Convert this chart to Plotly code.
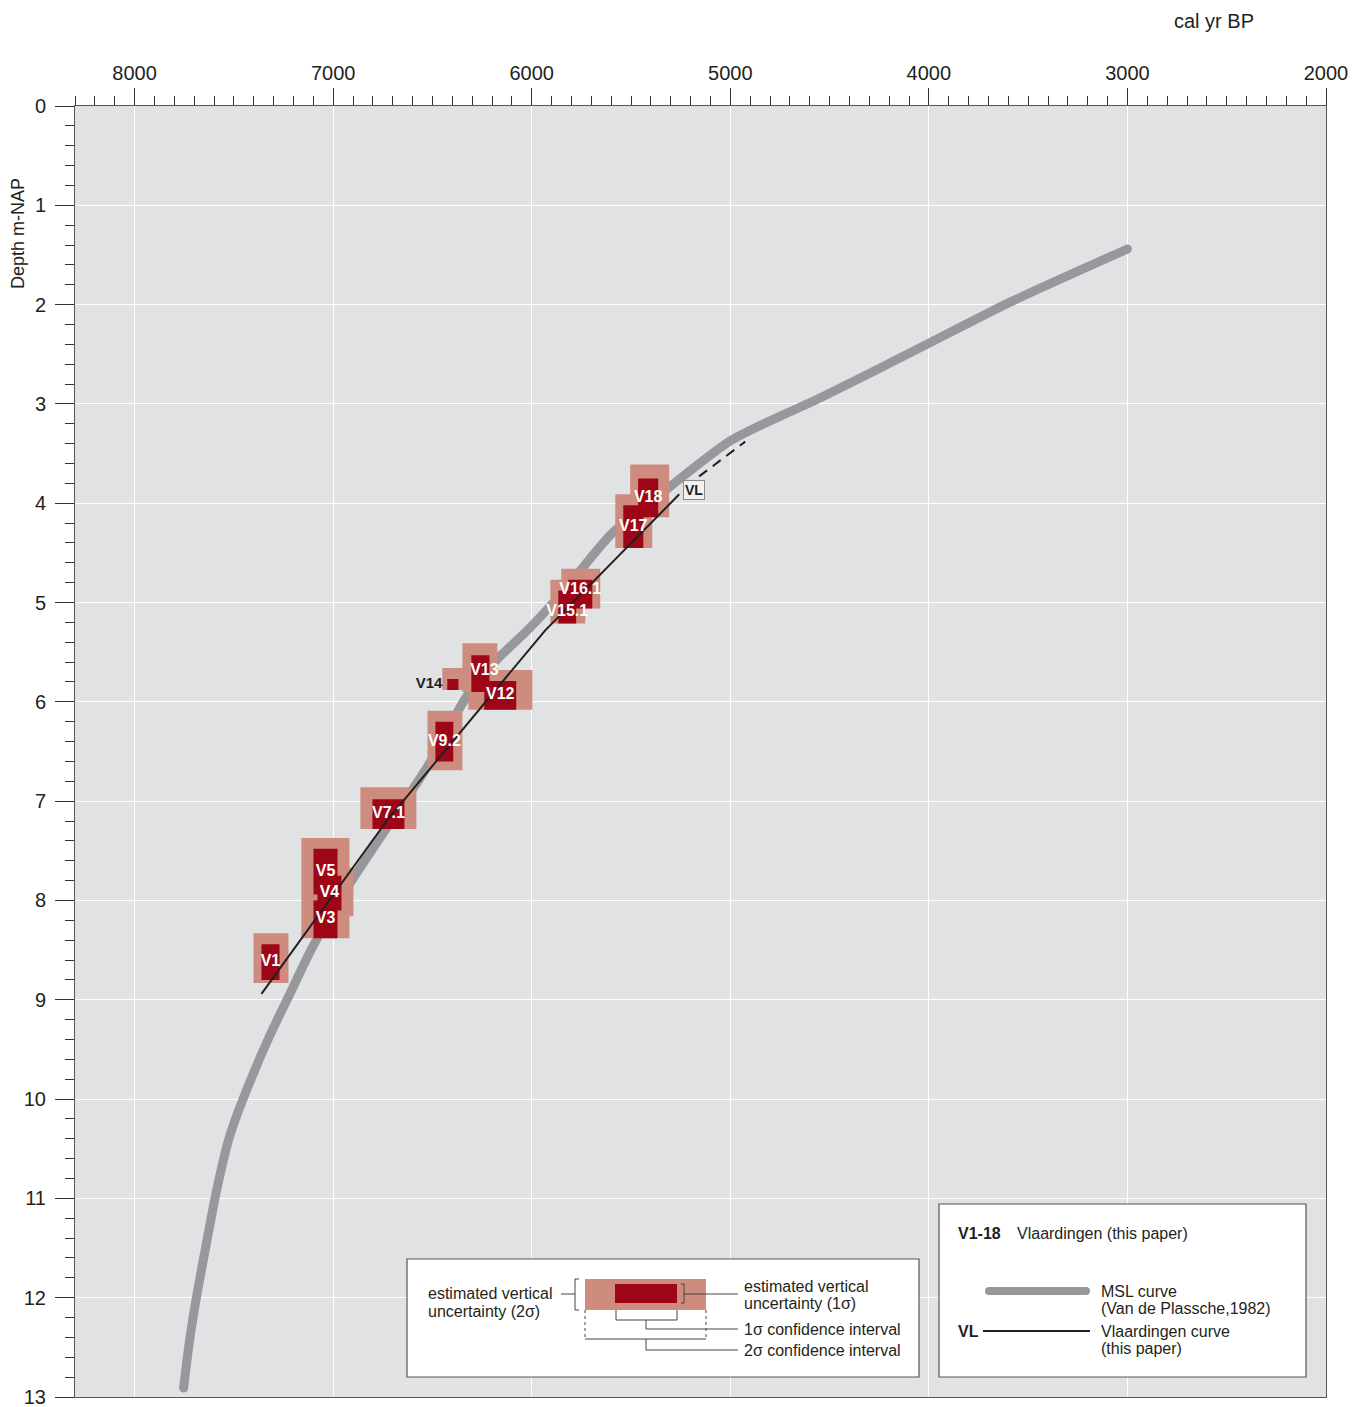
import plotly.graph_objects as go

# ---------------- data ----------------
# MSL curve (Van de Plassche, 1982): age (cal yr BP) and depth (m -NAP)
msl_year = [3000, 3596, 4000, 4538, 4990, 5308, 5594, 5846, 6012, 6178, 6329, 6515, 6586,
            6903, 7104, 7220, 7321, 7456, 7522, 7587, 7638, 7688, 7723, 7753]
msl_depth = [1.44, 1.98, 2.39, 2.93, 3.36, 3.84, 4.30, 4.90, 5.26, 5.58, 5.95, 6.62, 6.84,
             7.79, 8.47, 8.95, 9.37, 10.01, 10.38, 10.92, 11.45, 11.99, 12.43, 12.91]

# Vlaardingen curve (this paper)
vl_year = [7361, 6727, 5932, 5257]
vl_depth = [8.94, 7.19, 5.28, 3.91]
vl_dash_year = [5157, 4925]
vl_dash_depth = [3.73, 3.38]

# Sample index points V1-18
sample_names = ["V1", "V3", "V4", "V5", "V7.1", "V9.2", "V12", "V13", "V14",
                "V15.1", "V16.1", "V17", "V18"]
# 2 sigma confidence interval (old / young, cal yr BP)
age2_old = [7401, 7160, 7139, 7160, 6863, 6525, 6319, 6349, 6450, 5906, 5851, 5579, 5504]
age2_young = [7225, 6918, 6898, 6918, 6581, 6349, 5997, 6173, 6344, 5730, 5655, 5393, 5308]
# 2 sigma vertical uncertainty (top / bottom, m -NAP)
dep2_top = [8.33, 7.90, 7.67, 7.37, 6.86, 6.09, 5.68, 5.41, 5.66, 4.77, 4.66, 3.91, 3.61]
dep2_bot = [8.83, 8.38, 8.16, 7.94, 7.28, 6.69, 6.08, 5.90, 5.88, 5.21, 5.06, 4.45, 4.14]
# 1 sigma confidence interval
age1_old = [7361, 7099, 7079, 7099, 6802, 6485, 6239, 6304, 6425, 5866, 5816, 5539, 5464]
age1_young = [7270, 6978, 6958, 6978, 6641, 6395, 6078, 6213, 6369, 5776, 5695, 5438, 5363]
# 1 sigma vertical uncertainty
dep1_top = [8.44, 8.00, 7.75, 7.48, 6.98, 6.20, 5.79, 5.53, 5.77, 4.88, 4.77, 4.02, 3.75]
dep1_bot = [8.80, 8.38, 8.10, 7.94, 7.28, 6.60, 6.08, 5.90, 5.88, 5.21, 5.06, 4.45, 4.14]

x_ticks = [8000, 7000, 6000, 5000, 4000, 3000, 2000]
y_ticks = list(range(0, 14))

# ---------------- styles ----------------
FONT = "Liberation Sans, Arial, Helvetica, sans-serif"
TXT = "#231f20"
BG = "#e1e2e4"
OUTER = "#cd8c7d"
INNER = "#9d0617"
GRAY = "#97989b"

# page body has an 8px margin; plot area on screen: x 75..1326, y 106..1397
OFF = 8
L, R, T, B = 75, 1326, 106, 1397
W, H = 1352, 1399

# label anchor tweaks (data units) where labels are not at the 1-sigma box centre
label_shift = {"V15.1": (0, 0.05), "V16.1": (0, -0.04), "V13": (-20, -0.03)}


def px(x):
    return (x - L) / (R - L)


def py(y):
    return (B - y) / (B - T)


def boxes(x0, x1, y0, y1):
    xs, ys = [], []
    for a, b, c, d in zip(x0, x1, y0, y1):
        xs += [a, b, b, a, a, None]
        ys += [c, c, d, d, c, None]
    return xs, ys


fig = go.Figure()

fig.add_trace(go.Scatter(x=msl_year, y=msl_depth, mode="lines",
                         line=dict(color=GRAY, width=9, shape="spline", smoothing=0.7),
                         hoverinfo="skip", showlegend=False))
# round caps at curve ends
fig.add_trace(go.Scatter(x=[msl_year[0], msl_year[-1]], y=[msl_depth[0], msl_depth[-1]],
                         mode="markers", marker=dict(color=GRAY, size=9, line=dict(width=0)),
                         hoverinfo="skip", showlegend=False))

ox, oy = boxes(age2_old, age2_young, dep2_top, dep2_bot)
fig.add_trace(go.Scatter(x=ox, y=oy, mode="lines", fill="toself", fillcolor=OUTER,
                         line=dict(width=0, color=OUTER), hoverinfo="skip", showlegend=False))
ix, iy = boxes(age1_old, age1_young, dep1_top, dep1_bot)
fig.add_trace(go.Scatter(x=ix, y=iy, mode="lines", fill="toself", fillcolor=INNER,
                         line=dict(width=0, color=INNER), hoverinfo="skip", showlegend=False))

fig.add_trace(go.Scatter(x=vl_year, y=vl_depth, mode="lines",
                         line=dict(color=TXT, width=2), hoverinfo="skip", showlegend=False))
fig.add_trace(go.Scatter(x=vl_dash_year, y=vl_dash_depth, mode="lines",
                         line=dict(color=TXT, width=2, dash="10px,7px"),
                         hoverinfo="skip", showlegend=False))

# sample labels
lab_x, lab_y, lab_t = [], [], []
out_x, out_y, out_t = [], [], []
for n, a, b, c, d, e in zip(sample_names, age1_old, age1_young, dep1_top, dep1_bot, age2_old):
    if n == "V14":
        out_x.append(e)
        out_y.append((c + d) / 2)
        out_t.append("<b>%s</b>" % n)
    else:
        sx, sy = label_shift.get(n, (0, 0))
        lab_x.append((a + b) / 2 + sx)
        lab_y.append((c + d) / 2 + sy)
        lab_t.append("<b>%s</b>" % n)

fig.add_trace(go.Scatter(x=lab_x, y=lab_y, text=lab_t, mode="text", textposition="middle center",
                         textfont=dict(family=FONT, size=16, color="white"),
                         hoverinfo="skip", showlegend=False))
fig.add_trace(go.Scatter(x=out_x, y=out_y, text=out_t, mode="text", textposition="middle left",
                         textfont=dict(family=FONT, size=15, color=TXT),
                         hoverinfo="skip", showlegend=False))

annotations = []
shapes = []

# VL label
annotations.append(dict(x=5182, y=3.87, xref="x", yref="y", text="<b>VL</b>", showarrow=False,
                        font=dict(family=FONT, size=14, color=TXT), bgcolor="#f2f2f2",
                        bordercolor="#8a8a8a", borderwidth=1, borderpad=1))

# axis titles
annotations.append(dict(x=px(1214), y=py(21), xref="paper", yref="paper", text="cal yr BP",
                        showarrow=False, font=dict(family=FONT, size=20, color=TXT),
                        xanchor="center", yanchor="middle"))
annotations.append(dict(x=px(18), y=py(234), xref="paper", yref="paper", text="Depth m-NAP",
                        showarrow=False, textangle=-90, font=dict(family=FONT, size=18, color=TXT),
                        xanchor="center", yanchor="middle"))


def line(x0, y0, x1, y1, color="#444", width=1, dash=None):
    d = dict(type="line", xref="paper", yref="paper", x0=px(x0), y0=py(y0), x1=px(x1), y1=py(y1),
             line=dict(color=color, width=width), layer="above")
    if dash:
        d["line"]["dash"] = dash
    shapes.append(d)


def rect(x0, y0, x1, y1, fill, lc=None, lw=0, kind="rect"):
    shapes.append(dict(type=kind, xref="paper", yref="paper", x0=px(x0), y0=py(y0), x1=px(x1),
                       y1=py(y1), fillcolor=fill, line=dict(color=lc or fill, width=lw),
                       layer="above"))


def text(x, y, s, size=16, anchor="left"):
    annotations.append(dict(x=px(x), y=py(y), xref="paper", yref="paper", text=s, showarrow=False,
                            font=dict(family=FONT, size=size, color=TXT), xanchor=anchor,
                            yanchor="middle", align="left"))


# left legend box
rect(407, 1259, 919, 1377, "white", "#555", 1.2)
rect(585, 1279, 706, 1310, OUTER)
rect(615, 1284, 677, 1303, INNER)
line(561, 1294, 575, 1294)
line(575, 1279, 575, 1310)
line(575, 1279, 579, 1279)
line(575, 1310, 579, 1310)
line(684, 1284, 684, 1303)
line(681, 1284, 684, 1284)
line(681, 1303, 684, 1303)
line(684, 1294, 738, 1294)
line(616, 1310, 616, 1320)
line(677, 1310, 677, 1320)
line(616, 1320, 677, 1320)
line(646, 1320, 646, 1329)
line(646, 1329, 738, 1329)
line(585, 1310, 585, 1339, dash="dot")
line(706, 1310, 706, 1339, dash="dot")
line(585, 1339, 706, 1339)
line(646, 1339, 646, 1350)
line(646, 1350, 738, 1350)
text(426, 1293, "estimated vertical")
text(426, 1311, "uncertainty (2σ)")
text(742, 1286, "estimated vertical")
text(742, 1303, "uncertainty (1σ)")
text(742, 1329, "1σ confidence interval")
text(742, 1350, "2σ confidence interval")

# right legend box
rect(939, 1204, 1306, 1377, "white", "#555", 1.2)
text(956, 1233, "<b>V1-18</b>")
text(1015, 1233, "Vlaardingen (this paper)")
line(989, 1291, 1086, 1291, color=GRAY, width=8)
rect(985, 1287, 993, 1295, GRAY, kind="circle")
rect(1082, 1287, 1090, 1295, GRAY, kind="circle")
text(1099, 1291, "MSL curve")
text(1099, 1308, "(Van de Plassche,1982)")
text(956, 1331, "<b>VL</b>")
line(983, 1331, 1090, 1331, color=TXT, width=2)
text(1099, 1331, "Vlaardingen curve")
text(1099, 1348, "(this paper)")

fig.update_layout(
    width=W, height=H,
    margin=dict(l=L - OFF, r=W - (R - OFF), t=T - OFF, b=H - (B - OFF), pad=0),
    paper_bgcolor="white", plot_bgcolor=BG,
    font=dict(family=FONT, color=TXT),
    showlegend=False,
    annotations=annotations, shapes=shapes,
    xaxis=dict(range=[8300, 2000], side="top", tickmode="array", tickvals=x_ticks,
               ticks="outside", ticklen=17, tickwidth=1, tickcolor="#333",
               showgrid=True, gridcolor="white", gridwidth=1,
               showline=True, linecolor="#555", linewidth=1, mirror=True, zeroline=False,
               tickfont=dict(family=FONT, size=20, color=TXT), automargin=False,
               ticklabeloverflow="allow",
               minor=dict(dtick=100, tick0=0, ticks="outside", ticklen=9, tickcolor="#333",
                          showgrid=False)),
    yaxis=dict(range=[13, 0], tickmode="array", tickvals=y_ticks,
               ticks="outside", ticklen=19, tickwidth=1, tickcolor="#333",
               showgrid=True, gridcolor="white", gridwidth=1,
               showline=True, linecolor="#555", linewidth=1, mirror=True, zeroline=False,
               tickfont=dict(family=FONT, size=20, color=TXT), automargin=False,
               ticklabeloverflow="allow", ticklabelstandoff=5,
               minor=dict(dtick=0.2, tick0=0, ticks="outside", ticklen=9, tickcolor="#333",
                          showgrid=False)),
)

fig.write_html("out.html", config={"displayModeBar": False})
